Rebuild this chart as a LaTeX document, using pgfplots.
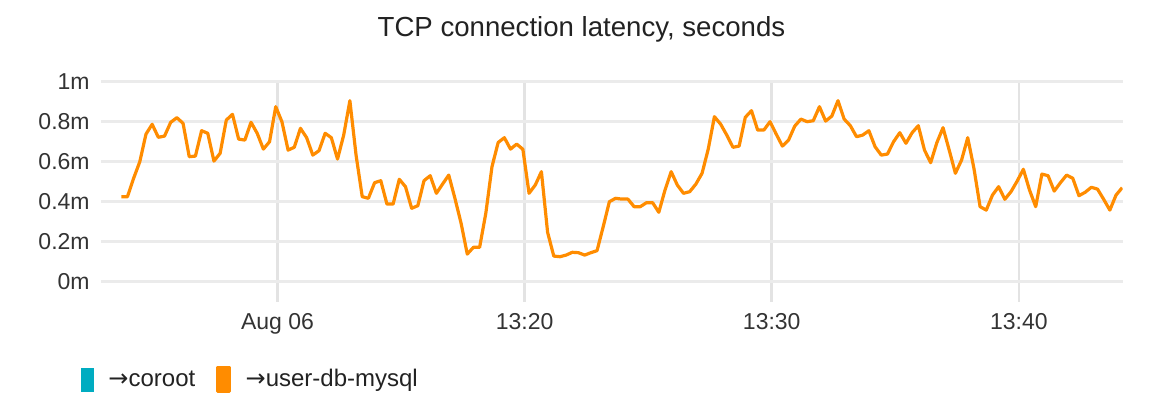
\documentclass[border=0pt]{standalone}
\usepackage{fontspec}
\setmainfont{Liberation Sans}
\newfontfamily\arrowfont{DejaVu Sans}
\usepackage{pgfplots}
\pgfplotsset{compat=1.18}
\usepackage{pgfplotstable}
\definecolor{mysqlorange}{HTML}{FF8C00}
\definecolor{corootcyan}{HTML}{00ACC1}
\definecolor{hgrid}{HTML}{EBEBEB}
\definecolor{vgrid}{HTML}{E3E3E3}
\definecolor{labelgrey}{HTML}{333333}
\definecolor{titlegrey}{HTML}{222222}

% minutes after 13:00, latency in ms
\pgfplotstableread{
t v
3.68 0.425
3.93 0.425
4.18 0.517
4.43 0.600
4.68 0.738
4.93 0.787
5.18 0.722
5.43 0.728
5.68 0.797
5.93 0.820
6.18 0.792
6.43 0.625
6.68 0.628
6.93 0.755
7.18 0.742
7.43 0.603
7.68 0.642
7.93 0.808
8.18 0.837
8.43 0.713
8.68 0.708
8.93 0.797
9.18 0.742
9.43 0.663
9.68 0.700
9.93 0.875
10.18 0.800
10.43 0.658
10.68 0.672
10.93 0.767
11.18 0.720
11.43 0.633
11.68 0.655
11.93 0.742
12.18 0.720
12.43 0.613
12.68 0.733
12.93 0.905
13.18 0.633
13.43 0.425
13.68 0.417
13.93 0.495
14.18 0.505
14.43 0.388
14.68 0.388
14.93 0.512
15.18 0.475
15.43 0.367
15.68 0.380
15.93 0.505
16.18 0.530
16.43 0.442
16.68 0.488
16.93 0.533
17.18 0.417
17.43 0.292
17.68 0.138
17.93 0.172
18.18 0.172
18.43 0.342
18.68 0.575
18.93 0.696
19.18 0.720
19.43 0.663
19.68 0.688
19.93 0.662
20.18 0.442
20.43 0.483
20.68 0.550
20.93 0.247
21.18 0.128
21.43 0.125
21.68 0.133
21.93 0.147
22.18 0.145
22.43 0.133
22.68 0.145
22.93 0.155
23.18 0.275
23.43 0.400
23.68 0.417
23.93 0.413
24.18 0.413
24.43 0.375
24.68 0.375
24.93 0.395
25.18 0.395
25.43 0.347
25.68 0.458
25.93 0.550
26.18 0.483
26.43 0.442
26.68 0.450
26.93 0.488
27.18 0.542
27.43 0.663
27.68 0.825
27.93 0.788
28.18 0.733
28.43 0.672
28.68 0.678
28.93 0.822
29.18 0.855
29.43 0.758
29.68 0.758
29.93 0.800
30.18 0.738
30.43 0.678
30.68 0.708
30.93 0.778
31.18 0.813
31.43 0.800
31.68 0.805
31.93 0.875
32.18 0.803
32.43 0.828
32.68 0.905
32.93 0.813
33.18 0.780
33.43 0.725
33.68 0.733
33.93 0.755
34.18 0.675
34.43 0.633
34.68 0.638
34.93 0.700
35.18 0.745
35.43 0.692
35.68 0.745
35.93 0.780
36.18 0.658
36.43 0.595
36.68 0.695
36.93 0.770
37.18 0.658
37.43 0.542
37.68 0.608
37.93 0.720
38.18 0.567
38.43 0.375
38.68 0.358
38.93 0.433
39.18 0.475
39.43 0.412
39.68 0.450
39.93 0.503
40.18 0.562
40.43 0.458
40.68 0.375
40.93 0.538
41.18 0.530
41.43 0.453
41.68 0.495
41.93 0.533
42.18 0.517
42.43 0.430
42.68 0.447
42.93 0.472
43.18 0.463
43.43 0.412
43.68 0.358
43.93 0.433
44.18 0.470
}\latency

\begin{document}
\begin{tikzpicture}
\useasboundingbox (0,0) rectangle (584pt,203pt);
\begin{axis}[
    at={(50.75pt,52.15pt)}, anchor=south west,
    scale only axis, width=510.6pt, height=110pt,
    xmin=2.88, xmax=44.2, ymin=-0.1, ymax=1,
    axis line style={draw=none},
    major tick length=0pt,
    xtick={10,20,30,40},
    xticklabels={Aug 06,13:20,13:30,13:40},
    ytick={0,0.2,0.4,0.6,0.8,1},
    yticklabels={0m,0.2m,0.4m,0.6m,0.8m,1m},
    xticklabel style={font=\fontsize{11.5}{13}\selectfont, text=labelgrey, anchor=base, inner sep=0pt, yshift=-14.15pt},
    yticklabel style={font=\fontsize{11.5}{13}\selectfont, text=labelgrey, anchor=east, inner sep=0pt, xshift=-5.75pt},
    xmajorgrids, ymajorgrids,
    x grid style={vgrid, line width=1.4pt},
    y grid style={hgrid, line width=1.5pt},
    title={TCP connection latency, seconds},
    title style={font=\fontsize{13.8}{16}\selectfont, text=titlegrey, at={(axis description cs:0.47,1)}, anchor=base, inner sep=0pt, yshift=16.7pt},
    legend columns=-1,
    legend style={at={(axis description cs:-0.0204,-0.355)}, anchor=west, draw=none, fill=none, inner sep=0pt,
        font=\fontsize{12}{14}\selectfont, text=titlegrey,
        nodes={inner sep=0pt},
        /tikz/every odd column/.append style={column sep=7.3pt},
        /tikz/every even column/.append style={column sep=10.3pt}},
    legend image code/.code={\fill[#1] (0pt,-5.9pt) rectangle (6pt,5.9pt);},
]
\addlegendimage{corootcyan, fill=corootcyan}
\addlegendentry{{\arrowfont →}coroot}
\addplot[mysqlorange, line width=1.6pt, line join=round,
    legend image code/.code={\fill[mysqlorange] (0pt,-5.9pt) rectangle (6pt,5.9pt);}]
    table[x=t, y=v] {\latency};
\addlegendentry{{\arrowfont →}user-db-mysql}
\end{axis}
\end{tikzpicture}
\end{document}
